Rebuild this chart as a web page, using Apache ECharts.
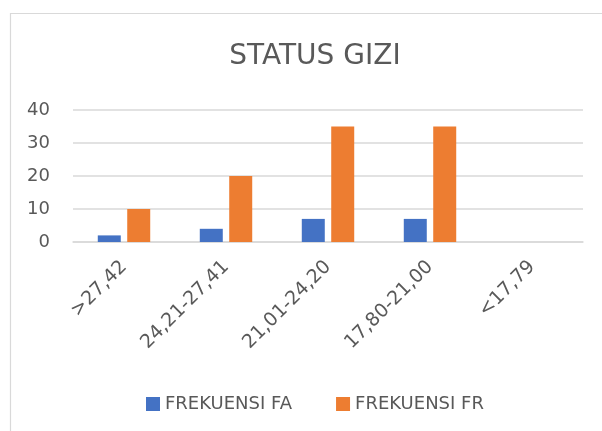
<!DOCTYPE html>
<html><head><meta charset="utf-8">
<script src="https://cdn.jsdelivr.net/npm/echarts@6/dist/echarts.min.js"></script>
<style>html,body{margin:0;padding:0;background:#fff}#c{width:602px;height:431px}</style>
</head><body><div id="c"></div>
<script>
const categories = [">27,42", "24,21-27,41", "21,01-24,20", "17,80-21,00", "<17,79"];
const frekuensiFA = [2, 4, 7, 7, 0];
const frekuensiFR = [10, 20, 35, 35, 0];
const yTicks = {min: 0, max: 40, interval: 10};

const chart = echarts.init(document.getElementById('c'), null, {renderer: 'canvas'});
const font = "'DejaVu Sans', sans-serif";
chart.setOption({
  animation: false,
  backgroundColor: '#fff',
  graphic: [{
    type: 'rect', left: 8, top: 11, z: -10,
    shape: {width: 700, height: 500},
    style: {fill: 'none', stroke: '#d9d9d9', lineWidth: 1.2}
  }],
  title: {
    text: 'STATUS GIZI', left: 310, top: 38, textAlign: 'center',
    textStyle: {fontFamily: font, fontSize: 28, fontWeight: 'normal', color: '#595959'}
  },
  legend: {
    data: ['FREKUENSI FA', 'FREKUENSI FR'],
    left: 141, top: 390, itemWidth: 14, itemHeight: 14, itemGap: 44,
    icon: 'rect',
    textStyle: {fontFamily: font, fontSize: 18, color: '#595959'}
  },
  grid: {left: 73, right: 19, top: 110, bottom: 189, containLabel: false},
  xAxis: {
    type: 'category', data: categories,
    axisLine: {lineStyle: {color: '#d9d9d9', width: 1.5}},
    axisTick: {show: false},
    axisLabel: {rotate: 45, margin: 22, padding: [16, 0, 0, 0], fontFamily: font, fontSize: 19, color: '#595959', interval: 0}
  },
  yAxis: {
    type: 'value', min: yTicks.min, max: yTicks.max, interval: yTicks.interval,
    axisLine: {show: false}, axisTick: {show: false},
    splitLine: {lineStyle: {color: '#d9d9d9', width: 1.5}},
    axisLabel: {margin: 23, fontFamily: font, fontSize: 18, color: '#595959'}
  },
  series: [
    {name: 'FREKUENSI FA', type: 'bar', data: frekuensiFA, barWidth: 23, barGap: '28%',
     itemStyle: {color: '#4472c4'}},
    {name: 'FREKUENSI FR', type: 'bar', data: frekuensiFR, barWidth: 23, barGap: '28%',
     itemStyle: {color: '#ed7d31'}}
  ]
});
</script></body></html>
